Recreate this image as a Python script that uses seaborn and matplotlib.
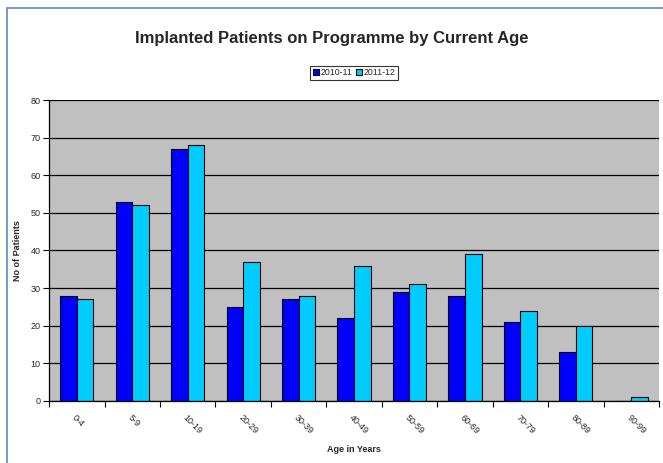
import pandas as pd
import seaborn as sns
import matplotlib.pyplot as plt
from matplotlib.patches import Rectangle

ages = ['0-4', '5-9', '10-19', '20-29', '30-39', '40-49', '50-59',
        '60-69', '70-79', '80-89', '90-99']
y2010 = [28, 53, 67, 25, 27, 22, 29, 28, 21, 13, 0]
y2011 = [27, 52, 68, 37, 28, 36, 31, 39, 24, 20, 1]

df = pd.DataFrame({
    'age': ages * 2,
    'patients': y2010 + y2011,
    'year': ['2010-11'] * len(ages) + ['2011-12'] * len(ages),
})

sns.set_theme(style='white')
plt.rcParams['font.family'] = ['Liberation Sans', 'DejaVu Sans']

fig = plt.figure(figsize=(6.63, 4.63), dpi=100)
ax = fig.add_axes([0.074, 0.134, 0.92, 0.65])
ax.set_facecolor('#C0C0C0')

sns.barplot(data=df, x='age', y='patients', hue='year', ax=ax,
            palette=['#0000FF', '#00CCFF'], width=0.6, saturation=1,
            edgecolor='black', linewidth=0.8, legend=True)

ax.set_ylim(0, 80)
ax.set_xlim(-0.5, len(ages) - 0.5)
ax.set_yticks(range(0, 81, 10))
ax.yaxis.grid(True, color='black', linewidth=0.9)
ax.set_axisbelow(True)

# category boundaries carry the tick marks, labels sit at centres
ax.set_xticks(range(len(ages)))
ax.set_xticklabels(ages, rotation=-45, ha='left', rotation_mode='anchor')
ax.set_xticks([i - 0.5 for i in range(len(ages) + 1)], minor=True)
ax.tick_params(axis='x', which='major', bottom=True, length=0, labelsize=6.5, pad=9)
ax.tick_params(axis='x', which='minor', bottom=True, length=4, width=0.8,
               color='black', direction='out')
ax.tick_params(axis='y', left=True, length=4, width=0.8, color='black',
               direction='out', labelsize=6.5, pad=2)

for side in ['top', 'right']:
    ax.spines[side].set_visible(False)
for side in ['left', 'bottom']:
    ax.spines[side].set_color('black')
    ax.spines[side].set_linewidth(0.9)

ax.set_xlabel('Age in Years', fontsize=6.5, fontweight='bold', labelpad=6)
ax.set_ylabel('No of Patients', fontsize=6.5, fontweight='bold', labelpad=6)

fig.suptitle('Implanted Patients on Programme by Current Age',
             fontsize=12, fontweight='bold', y=0.932)

leg = ax.legend(loc='center', bbox_to_anchor=(0.50, 1.09), ncol=2, fontsize=6.3,
                frameon=True, fancybox=False, handlelength=0.7, handleheight=0.7,
                handletextpad=0.2, columnspacing=0.4, borderpad=0.3)
leg.get_frame().set_edgecolor('black')
leg.get_frame().set_linewidth(0.8)

fig.patches.append(Rectangle((0.010, -0.01), 1.2, 0.993, transform=fig.transFigure,
                             fill=False, edgecolor='#5B8DB8', linewidth=1.2))

fig.savefig('out.png', dpi=100)
